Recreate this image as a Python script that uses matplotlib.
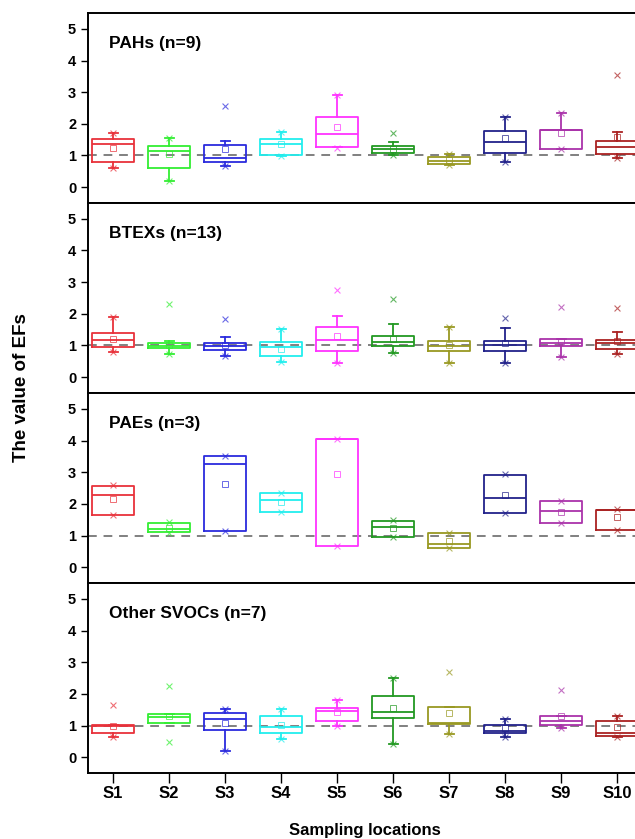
"""Boxplots of enrichment factors (EFs) for four compound groups across sampling sites."""

import matplotlib

matplotlib.use("Agg")
import matplotlib.pyplot as plt

plt.rcParams["font.family"] = ["Liberation Sans", "DejaVu Sans"]
plt.rcParams["font.weight"] = "bold"

sites = ["S1", "S2", "S3", "S4", "S5", "S6", "S7", "S8", "S9", "S10"]
colors = ["#e8313a", "#33ee33", "#2b2bdd", "#22eeee", "#ff33ff",
          "#229922", "#999922", "#22228a", "#aa33aa", "#aa2222"]
panel_titles = ["PAHs (n=9)", "BTEXs (n=13)", "PAEs (n=3)", "Other SVOCs (n=7)"]

# PAHs
pahs_q1 = [0.81, 0.60, 0.78, 1.02, 1.26, 1.07, 0.73, 1.09, 1.22, 1.05]
pahs_med = [1.35, 1.15, 0.91, 1.35, 1.68, 1.21, 0.84, 1.44, 1.80, 1.28]
pahs_q3 = [1.51, 1.30, 1.33, 1.51, 2.23, 1.31, 0.94, 1.77, 1.80, 1.47]
pahs_mean = [1.23, 1.04, 1.19, 1.36, 1.90, 1.20, 0.86, 1.54, 1.72, 1.59]
pahs_wlo = [0.62, 0.18, 0.68, 0.99, 1.26, 1.00, 0.70, 0.81, 1.22, 0.91]
pahs_whi = [1.70, 1.54, 1.47, 1.73, 2.92, 1.44, 1.04, 2.22, 2.35, 1.75]
pahs_min = [0.62, 0.18, 0.68, 0.99, 1.23, 1.00, 0.70, 0.81, 1.21, 0.91]
pahs_max = [1.70, 1.54, 2.56, 1.73, 2.92, 1.70, 1.04, 2.22, 2.35, 3.53]

# BTEXs
btex_q1 = [0.94, 0.92, 0.86, 0.68, 0.84, 0.99, 0.84, 0.82, 0.97, 0.89]
btex_med = [1.17, 0.99, 0.99, 0.94, 1.17, 1.12, 0.99, 1.01, 1.07, 1.08]
btex_q3 = [1.41, 1.08, 1.08, 1.10, 1.57, 1.29, 1.15, 1.15, 1.20, 1.18]
btex_mean = [1.22, 1.03, 1.03, 0.89, 1.31, 1.22, 1.03, 1.08, 1.15, 1.13]
btex_wlo = [0.78, 0.73, 0.68, 0.47, 0.45, 0.75, 0.45, 0.45, 0.63, 0.73]
btex_whi = [1.91, 1.15, 1.26, 1.52, 1.94, 1.67, 1.59, 1.54, 1.20, 1.43]
btex_min = [0.78, 0.73, 0.68, 0.47, 0.45, 0.75, 0.45, 0.45, 0.63, 0.73]
btex_max = [1.91, 2.30, 1.85, 1.52, 2.75, 2.48, 1.59, 1.88, 2.22, 2.17]

# PAEs (n=3: box spans min..max, no whiskers)
paes_q1 = [1.64, 1.10, 1.15, 1.74, 0.67, 0.96, 0.62, 1.72, 1.38, 1.17]
paes_med = [2.27, 1.20, 3.26, 2.12, 4.06, 1.28, 0.72, 2.17, 1.77, 1.80]
paes_q3 = [2.57, 1.38, 3.51, 2.33, 4.06, 1.46, 1.09, 2.91, 2.09, 1.80]
paes_mean = [2.16, 1.23, 2.64, 2.06, 2.93, 1.23, 0.83, 2.27, 1.75, 1.59]
paes_wlo = paes_q1
paes_whi = paes_q3
paes_min = [1.64, 1.09, 1.15, 1.74, 0.67, 0.96, 0.60, 1.72, 1.38, 1.17]
paes_max = [2.59, 1.42, 3.50, 2.35, 4.06, 1.49, 1.09, 2.94, 2.10, 1.83]

# Other SVOCs
svoc_q1 = [0.75, 1.08, 0.86, 0.75, 1.15, 1.24, 1.05, 0.75, 1.03, 0.68]
svoc_med = [1.00, 1.28, 1.19, 0.96, 1.47, 1.42, 1.08, 0.84, 1.15, 0.77]
svoc_q3 = [1.03, 1.36, 1.39, 1.31, 1.55, 1.92, 1.57, 1.02, 1.29, 1.15]
svoc_mean = [0.97, 1.29, 1.07, 1.02, 1.42, 1.56, 1.40, 0.92, 1.29, 0.95]
svoc_wlo = [0.63, 1.08, 0.19, 0.56, 0.97, 0.42, 0.73, 0.63, 0.92, 0.65]
svoc_whi = [1.03, 1.36, 1.52, 1.51, 1.81, 2.49, 1.57, 1.21, 1.29, 1.29]
svoc_min = [0.63, 0.49, 0.19, 0.56, 0.97, 0.42, 0.73, 0.63, 0.92, 0.65]
svoc_max = [1.65, 2.25, 1.52, 1.51, 1.81, 2.49, 2.69, 1.21, 2.13, 1.29]

panels = [
    (pahs_q1, pahs_med, pahs_q3, pahs_mean, pahs_wlo, pahs_whi, pahs_min, pahs_max),
    (btex_q1, btex_med, btex_q3, btex_mean, btex_wlo, btex_whi, btex_min, btex_max),
    (paes_q1, paes_med, paes_q3, paes_mean, paes_wlo, paes_whi, paes_min, paes_max),
    (svoc_q1, svoc_med, svoc_q3, svoc_mean, svoc_wlo, svoc_whi, svoc_min, svoc_max),
]

W, H = 635, 839
fig = plt.figure(figsize=(W / 100, H / 100), dpi=100)

left_px, top_px, panel_h, width_px = 88, 13, 190, 560
positions = list(range(1, len(sites) + 1))

for i, (title, data) in enumerate(zip(panel_titles, panels)):
    q1, med, q3, mean, wlo, whi, vmin, vmax = data
    bottom = 1 - (top_px + (i + 1) * panel_h) / H
    ax = fig.add_axes([left_px / W, bottom, width_px / W, panel_h / H])

    # reference line EF = 1
    ax.axhline(1, color="#808080", lw=1.4, ls=(0, (4.5, 3.5)), zorder=1)

    for k, pos in enumerate(positions):
        c = colors[k]
        stats = [{"q1": q1[k], "med": med[k], "q3": q3[k], "mean": mean[k],
                  "whislo": wlo[k], "whishi": whi[k], "fliers": []}]
        ax.bxp(stats, positions=[pos], widths=0.75, showmeans=True,
               showcaps=(i != 2), capwidths=0.16, showfliers=False,
               boxprops=dict(color=c, lw=1.3),
               medianprops=dict(color=c, lw=1.3),
               whiskerprops=dict(color=c, lw=1.3),
               capprops=dict(color=c, lw=1.3),
               meanprops=dict(marker="s", markersize=4.5, markerfacecolor="none",
                              markeredgecolor=c, markeredgewidth=0.7, alpha=0.7),
               manage_ticks=False)
        # min / max markers
        ax.scatter([pos, pos], [vmin[k], vmax[k]], marker="x", s=18,
                   color=c, linewidths=0.8, alpha=0.7, zorder=3)

    ax.set_xlim(0.55, 10.55)
    ax.set_ylim(-0.5, 5.5)
    ax.set_yticks([0, 1, 2, 3, 4, 5])
    ax.tick_params(axis="y", direction="out", length=5, width=1.0, labelsize=10.5)
    for lab in ax.get_yticklabels():
        lab.set_fontweight("bold")
    for sp in ax.spines.values():
        sp.set_linewidth(1.4)
    ax.text(0.037, 0.84, title, transform=ax.transAxes, fontsize=12.5,
            fontweight="bold", ha="left", va="center")

    if i == len(panels) - 1:
        ax.set_xticks(positions)
        ax.set_xticklabels(sites, fontsize=12, fontweight="bold")
        ax.tick_params(axis="x", direction="out", length=7, width=1.0, pad=2)
    else:
        ax.set_xticks([])

fig.text(22 / W, 1 - 388 / H, "The value of EFs", rotation=90, fontsize=13.5,
         fontweight="bold", ha="center", va="center")
fig.text(365 / W, 1 - 831 / H, "Sampling locations", fontsize=12,
         fontweight="bold", ha="center", va="center")

fig.savefig("out.png", dpi=100)
